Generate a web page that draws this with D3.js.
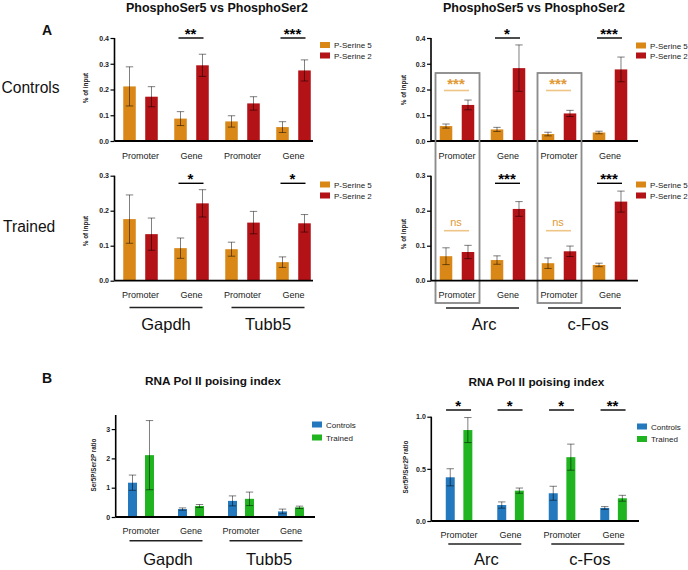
<!DOCTYPE html>
<html><head><meta charset="utf-8">
<script src="https://cdn.jsdelivr.net/npm/d3@7"></script>
<style>body{margin:0;background:#fff} svg{display:block;font-family:"Liberation Sans",Arial,sans-serif}</style>
</head><body><svg id="c" width="688" height="570"></svg>
<script>
// ---------------- DATA ----------------
const categories = ["Promoter", "Gene", "Promoter", "Gene"];
const genesLeft = ["Gapdh", "Tubb5"];
const genesRight = ["Arc", "c-Fos"];
const phosSeries = ["P-Serine 5", "P-Serine 2"];
const poisSeries = ["Controls", "Trained"];
const rowLabels = ["Controls", "Trained"];

// Panel A, Controls
const ctrlLeftSer5 = [0.212, 0.087, 0.076, 0.054];
const ctrlLeftSer5Err = [0.076, 0.027, 0.022, 0.021];
const ctrlLeftSer2 = [0.172, 0.294, 0.146, 0.274];
const ctrlLeftSer2Err = [0.039, 0.043, 0.026, 0.041];
const ctrlRightSer5 = [0.058, 0.045, 0.027, 0.033];
const ctrlRightSer5Err = [0.008, 0.008, 0.007, 0.005];
const ctrlRightSer2 = [0.140, 0.283, 0.107, 0.278];
const ctrlRightSer2Err = [0.019, 0.090, 0.012, 0.048];
// Panel A, Trained
const trainLeftSer5 = [0.176, 0.093, 0.090, 0.053];
const trainLeftSer5Err = [0.069, 0.029, 0.020, 0.015];
const trainLeftSer2 = [0.133, 0.221, 0.166, 0.164];
const trainLeftSer2Err = [0.046, 0.039, 0.032, 0.025];
const trainRightSer5 = [0.070, 0.059, 0.050, 0.045];
const trainRightSer5Err = [0.024, 0.012, 0.015, 0.005];
const trainRightSer2 = [0.082, 0.205, 0.084, 0.226];
const trainRightSer2Err = [0.019, 0.021, 0.015, 0.030];
// Panel B, poising index
const poisLeftCtrl = [1.17, 0.27, 0.55, 0.19];
const poisLeftCtrlErr = [0.26, 0.04, 0.17, 0.08];
const poisLeftTrained = [2.11, 0.375, 0.62, 0.33];
const poisLeftTrainedErr = [1.18, 0.05, 0.23, 0.04];
const poisRightCtrl = [0.419, 0.153, 0.266, 0.125];
const poisRightCtrlErr = [0.082, 0.030, 0.067, 0.013];
const poisRightTrained = [0.872, 0.291, 0.612, 0.218];
const poisRightTrainedErr = [0.120, 0.025, 0.125, 0.028];

// significance labels (per category)
const sigCtrlLeft = ["", "**", "", "***"];
const sigCtrlRight = ["***", "*", "***", "***"];
const sigTrainLeft = ["", "*", "", "*"];
const sigTrainRight = ["ns", "***", "ns", "***"];
const sigPoisRight = ["*", "*", "*", "**"];
const promoterHighlight = [true, false, true, false];

// tick values
const ticksA1 = [0, 0.1, 0.2, 0.3, 0.4];
const ticksA2 = [0, 0.1, 0.2, 0.3];
const ticksB1 = [0, 1, 2, 3];
const ticksB2 = [0, 0.5, 1.0];

// ---------------- STYLE ----------------
const cOrange = "#d98818", cRed = "#b31217", cBlue = "#2478bd", cGreen = "#20b420";
const sigOrange = "#e19a35", sigOrangeLine = "#efc587";

const svg = d3.select("#c");

function panel(o) {
  const g = svg.append("g");
  const y = d3.scaleLinear().domain(o.yDomain).range([o.y0, o.yTop]);
  const x0 = d3.scaleBand().domain(d3.range(categories.length)).range(o.xRange);
  const x1 = d3.scaleBand().domain(o.series).range([0, x0.bandwidth()])
    .paddingInner(o.pi).paddingOuter(o.po);
  const cx = i => x0(i) + x0.bandwidth() / 2;

  // boxes (behind)
  if (o.boxes) {
    promoterHighlight.forEach((h, i) => {
      if (!h) return;
      g.append("rect").attr("x", cx(i) - 21.5).attr("y", 73).attr("width", 44).attr("height", 230)
        .attr("fill", "none").attr("stroke", "#8c8c8c").attr("stroke-width", 1.5);
    });
  }

  o.values.forEach((vals, si) => {
    const s = o.series[si];
    const errs = o.errs[si];
    const bx = i => x0(i) + x1(s);
    g.selectAll(null).data(vals).enter().append("rect")
      .attr("x", (d, i) => bx(i)).attr("width", x1.bandwidth())
      .attr("y", d => y(d)).attr("height", d => y(0) - y(d))
      .attr("fill", o.colors[si]);
    const eg = g.append("g").attr("stroke", "#000").attr("stroke-opacity", 0.5).attr("stroke-width", 1);
    vals.forEach((v, i) => {
      const mx = bx(i) + x1.bandwidth() / 2, e = errs[i], cw = o.cap;
      const lo = Math.max(0, v - e);
      eg.append("line").attr("x1", mx).attr("x2", mx).attr("y1", y(v + e)).attr("y2", y(lo));
      eg.append("line").attr("x1", mx - cw).attr("x2", mx + cw).attr("y1", y(v + e)).attr("y2", y(v + e));
      eg.append("line").attr("x1", mx - cw).attr("x2", mx + cw).attr("y1", y(lo)).attr("y2", y(lo));
    });
  });

  // y axis
  const ax = d3.axisLeft(y).tickValues(o.ticks).tickFormat(o.fmt).tickSize(4).tickPadding(1.5);
  const ag = g.append("g").attr("transform", `translate(${o.axisX},0)`).call(ax);
  ag.select(".domain").attr("stroke-width", 1.6).attr("d", `M0,${o.y0}V${o.yTop}`);
  ag.selectAll(".tick line").attr("stroke-width", 1.2);
  ag.selectAll(".tick text").attr("font-size", 7).attr("font-weight", "bold")
    .attr("font-family", '"Liberation Sans",Arial,sans-serif').attr("fill", "#222");
  // x axis line
  g.append("line").attr("x1", o.axisX).attr("x2", o.xEnd).attr("y1", o.y0).attr("y2", o.y0)
    .attr("stroke", "#000").attr("stroke-width", 1.8);

  // y title
  g.append("text").attr("transform", `translate(${o.titleX},${o.titleY}) rotate(-90)`)
    .attr("text-anchor", "middle").attr("font-size", 6.3).attr("font-weight", "bold")
    .attr("fill", "#222").text(o.yTitle);

  // category labels
  g.selectAll(null).data(categories).enter().append("text")
    .attr("x", (d, i) => cx(i)).attr("y", o.catY).attr("text-anchor", "middle")
    .attr("font-size", 9).attr("fill", "#222").text(d => d);

  // significance
  if (o.sig) {
    o.sig.forEach((s, i) => {
      if (!s) return;
      const orange = o.boxes && promoterHighlight[i];
      const ly = orange ? o.sigYOrange : o.sigY;
      g.append("line").attr("x1", cx(i) - 13).attr("x2", cx(i) + 12).attr("y1", ly).attr("y2", ly)
        .attr("stroke", orange ? sigOrangeLine : "#000").attr("stroke-width", orange ? 1.6 : 1.4);
      if (s === "ns") {
        g.append("text").attr("x", cx(i) - 1).attr("y", ly - 4.5).attr("text-anchor", "middle")
          .attr("font-size", 11).attr("fill", sigOrange).text(s);
      } else {
        g.append("text").attr("x", cx(i) - 1).attr("y", orange ? ly - 1.5 : ly + 1)
          .attr("text-anchor", "middle").attr("font-size", 15).attr("font-weight", "bold")
          .attr("fill", orange ? sigOrange : "#000").text(s);
      }
    });
  }

  // gene names + underlines
  if (o.genes) {
    o.genes.forEach((gn, k) => {
      const m = (cx(2 * k) + cx(2 * k + 1)) / 2;
      g.append("line").attr("x1", m - 36.5).attr("x2", m + 36.5).attr("y1", o.ulY).attr("y2", o.ulY)
        .attr("stroke", "#222").attr("stroke-width", 1.5);
      g.append("text").attr("x", m + (o.geneShift ? o.geneShift[k] : 0)).attr("y", o.geneY)
        .attr("text-anchor", "middle").attr("font-size", 16.5).attr("fill", "#111").text(gn);
    });
  }

  // legend
  const lg = g.append("g");
  o.series.forEach((s, si) => {
    const ly = o.legY + si * o.legStep;
    lg.append("rect").attr("x", o.legX).attr("y", ly).attr("width", 10).attr("height", 6)
      .attr("fill", o.colors[si]);
    lg.append("text").attr("x", o.legX + 14).attr("y", ly + 6).attr("font-size", 8)
      .attr("fill", "#222").text(s);
  });
}

// ---------- Panel A ----------
const fmt1 = d3.format(".1f");
const aLeft = { xRange: [115, 319], axisX: 114.5, xEnd: 313, pi: 0.43, po: 0.375, cap: 3.7, titleX: 88 };
const aRight = { xRange: [431.5, 635.5], axisX: 431, xEnd: 638, pi: 0.43, po: 0.375, cap: 3.7, titleX: 406 };

panel(Object.assign({}, aLeft, {
  yDomain: [0, 0.4], y0: 141, yTop: 38, ticks: ticksA1, fmt: fmt1, series: phosSeries,
  colors: [cOrange, cRed], values: [ctrlLeftSer5, ctrlLeftSer2], errs: [ctrlLeftSer5Err, ctrlLeftSer2Err],
  yTitle: "% of input", titleY: 88, catY: 158.5, sig: sigCtrlLeft, sigY: 38,
  legX: 320, legY: 42, legStep: 10.5
}));
panel(Object.assign({}, aRight, {
  yDomain: [0, 0.4], y0: 141, yTop: 38, ticks: ticksA1, fmt: fmt1, series: phosSeries,
  colors: [cOrange, cRed], values: [ctrlRightSer5, ctrlRightSer2], errs: [ctrlRightSer5Err, ctrlRightSer2Err],
  yTitle: "% of input", titleY: 90, catY: 158.5, sig: sigCtrlRight, sigY: 38, sigYOrange: 90.5, boxes: true,
  legX: 636, legY: 42.5, legStep: 10
}));
panel(Object.assign({}, aLeft, {
  yDomain: [0, 0.3], y0: 280.7, yTop: 175.7, ticks: ticksA2, fmt: fmt1, series: phosSeries,
  colors: [cOrange, cRed], values: [trainLeftSer5, trainLeftSer2], errs: [trainLeftSer5Err, trainLeftSer2Err],
  yTitle: "% of input", titleY: 231, catY: 298, sig: sigTrainLeft, sigY: 183.3,
  genes: genesLeft, ulY: 307.5, geneY: 329.5,
  legX: 320, legY: 181.5, legStep: 11
}));
panel(Object.assign({}, aRight, {
  yDomain: [0, 0.3], y0: 280.7, yTop: 175.7, ticks: ticksA2, fmt: fmt1, series: phosSeries,
  colors: [cOrange, cRed], values: [trainRightSer5, trainRightSer2], errs: [trainRightSer5Err, trainRightSer2Err],
  yTitle: "% of input", titleY: 234, catY: 298, sig: sigTrainRight, sigY: 183.3, sigYOrange: 230.7, boxes: true,
  genes: genesRight, ulY: 308, geneY: 329.5, geneShift: [1.5, 3.5],
  legX: 636, legY: 181.5, legStep: 11
}));

// ---------- Panel B ----------
panel({
  xRange: [116, 316], axisX: 115.7, xEnd: 315, pi: 0.47, po: 0.706, cap: 3.7,
  yDomain: [0, 3.48], y0: 517, yTop: 415, ticks: ticksB1, fmt: d3.format("d"), series: poisSeries,
  colors: [cBlue, cGreen], values: [poisLeftCtrl, poisLeftTrained], errs: [poisLeftCtrlErr, poisLeftTrainedErr],
  yTitle: "Ser5P/Ser2P ratio", titleX: 96, titleY: 465, catY: 533.5,
  genes: genesLeft, ulY: 540.7, geneY: 564.5, geneShift: [2, 3],
  legX: 312, legY: 421.5, legStep: 13
});
panel({
  xRange: [433.3, 639.3], axisX: 431.3, xEnd: 639, pi: 0.49, po: 0.707, cap: 3.7,
  yDomain: [0, 1.0], y0: 521, yTop: 416.7, ticks: ticksB2, fmt: fmt1, series: poisSeries,
  colors: [cBlue, cGreen], values: [poisRightCtrl, poisRightTrained], errs: [poisRightCtrlErr, poisRightTrainedErr],
  yTitle: "Ser5P/Ser2P ratio", titleX: 408, titleY: 467, catY: 537.5, sig: sigPoisRight, sigY: 410,
  genes: genesRight, ulY: 544, geneY: 565, geneShift: [1.5, 2],
  legX: 637, legY: 423.5, legStep: 12.5
});

// ---------- titles and labels ----------
const T = (x, y, t, size, weight, anchor) => svg.append("text").attr("x", x).attr("y", y)
  .attr("font-size", size).attr("font-weight", weight || "normal")
  .attr("text-anchor", anchor || "middle").attr("fill", "#111").text(t);
T(217, 11.5, "PhosphoSer5 vs PhosphoSer2", 12.5, "bold");
T(534, 11.5, "PhosphoSer5 vs PhosphoSer2", 12.5, "bold");
T(213, 384.5, "RNA Pol II poising index", 11.8, "bold");
T(536.5, 385.5, "RNA Pol II poising index", 11.8, "bold");
T(47, 35, "A", 14, "bold");
T(47, 382.5, "B", 14, "bold");
T(1.5, 92.7, rowLabels[0], 15.6, "normal", "start");
T(3, 232.3, rowLabels[1], 15.6, "normal", "start");
</script></body></html>
